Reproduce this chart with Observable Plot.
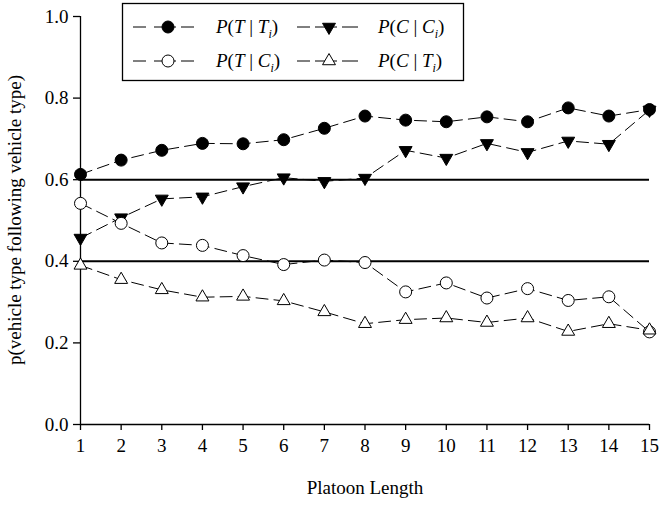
<!DOCTYPE html>
<html>
<head>
<meta charset="utf-8">
<script src="https://cdn.jsdelivr.net/npm/d3@7"></script>
<script src="https://cdn.jsdelivr.net/npm/@observablehq/plot@0.6"></script>
<style>
  html, body { margin: 0; padding: 0; background: #fff; }
  #chart svg { display: block; }
  #chart svg text { font-family: "Liberation Serif", "Times New Roman", serif; }
</style>
</head>
<body>
<div id="chart"></div>
<script>
// Platoon length on the x axis
const platoonLength = [1, 2, 3, 4, 5, 6, 7, 8, 9, 10, 11, 12, 13, 14, 15];

// Conditional probabilities of the following vehicle type
const pTgivenT = [0.613, 0.648, 0.672, 0.689, 0.688, 0.698, 0.726, 0.756, 0.746, 0.742, 0.754, 0.742, 0.776, 0.756, 0.772];
const pCgivenC = [0.457, 0.507, 0.553, 0.558, 0.583, 0.605, 0.596, 0.604, 0.672, 0.653, 0.689, 0.667, 0.695, 0.687, 0.771];
const pTgivenC = [0.542, 0.493, 0.445, 0.439, 0.414, 0.392, 0.403, 0.397, 0.325, 0.347, 0.310, 0.333, 0.304, 0.313, 0.227];
const pCgivenT = [0.390, 0.355, 0.330, 0.312, 0.314, 0.303, 0.276, 0.247, 0.257, 0.261, 0.250, 0.261, 0.228, 0.247, 0.231];

// Reference levels drawn as solid horizontal lines
const referenceLevels = [0.4, 0.6];

// Axis ticks and titles
const xTicks = platoonLength;
const yTicks = [0, 0.2, 0.4, 0.6, 0.8, 1.0];
const xTitle = "Platoon Length";
const yTitle = "p(vehicle type following vehicle type)";

// Series: legend label parts [given-letter, condition-letter], marker style
const series = [
  {key: "TT", values: pTgivenT, a: "T", b: "T", symbol: "circle",   fill: "black", rotate: 0,   r: 6},
  {key: "CC", values: pCgivenC, a: "C", b: "C", symbol: "triangle", fill: "black", rotate: 180, r: 4.8},
  {key: "TC", values: pTgivenC, a: "T", b: "C", symbol: "circle",   fill: "white", rotate: 0,   r: 6},
  {key: "CT", values: pCgivenT, a: "C", b: "T", symbol: "triangle", fill: "white", rotate: 0,   r: 4.8}
];

const font = "Liberation Serif, Times New Roman, serif";

const rowsFor = s => platoonLength.map((n, i) => ({n, v: s.values[i], key: s.key}));

const axisText = {fontFamily: font, fontSize: 19, fontVariant: "normal"};

const marks = [
  Plot.ruleY(referenceLevels, {x1: 1, x2: 15, stroke: "black", strokeWidth: 2}),
  Plot.ruleX([1], {y1: 0, y2: 1, stroke: "black", strokeWidth: 1.3}),
  Plot.ruleY([0], {x1: 1, x2: 15, stroke: "black", strokeWidth: 1.3}),
  Plot.axisY({ticks: yTicks, tickFormat: d3.format(".1f"), tickSize: 7, tickPadding: 5, label: null, strokeWidth: 1.3, stroke: "black", fill: "black", ...axisText}),
  Plot.axisX({ticks: xTicks, tickFormat: d3.format("d"), tickSize: 6, tickPadding: 8, label: null, strokeWidth: 1.3, stroke: "black", fill: "black", ...axisText})
];

for (const s of series) {
  marks.push(Plot.line(rowsFor(s), {x: "n", y: "v", stroke: "black", strokeWidth: 1, strokeDasharray: "12,6"}));
}
for (const s of series) {
  marks.push(Plot.dot(rowsFor(s), {
    x: "n", y: "v", r: s.r, symbol: s.symbol, rotate: s.rotate,
    fill: s.fill, stroke: "black", strokeWidth: 1
  }));
}

const chart = Plot.plot({
  width: 659,
  height: 505,
  marginLeft: 80,
  marginRight: 10,
  marginTop: 16,
  marginBottom: 81,
  x: {domain: [1, 15]},
  y: {domain: [0, 1]},
  style: {fontFamily: font, fontSize: "19px", background: "white", color: "black"},
  marks
});

document.getElementById("chart").appendChild(chart);

// Serif type for every label, including the tick labels
const svg = d3.select(chart);
svg.selectAll("text").style("font-family", font).style("font-size", "19px").style("font-variant", "normal");

// Axis titles and the boxed legend, added to the same SVG
svg.append("text")
  .attr("x", 365).attr("y", 494)
  .attr("text-anchor", "middle")
  .style("font-family", font).style("font-size", "19px")
  .text(xTitle);

svg.append("text")
  .attr("transform", "translate(21,220) rotate(-90)")
  .attr("text-anchor", "middle")
  .style("font-family", font).style("font-size", "19px")
  .text(yTitle);

const legend = svg.append("g").attr("text-anchor", "start");
legend.append("rect")
  .attr("x", 122.5).attr("y", 3.5).attr("width", 341).attr("height", 77)
  .attr("fill", "white").attr("stroke", "black").attr("stroke-width", 1.3);

const legendCols = [{line: 133, marker: 168, text: 216}, {line: 297, marker: 329, text: 378}];
const legendRows = [27, 61];
const legendSlots = [[0, 0], [0, 1], [1, 0], [1, 1]]; // [row, col] per series

series.forEach((s, i) => {
  const [ri, ci] = legendSlots[i];
  const col = legendCols[ci];
  const cy = legendRows[ri];
  const m = col.marker;
  // dashed sample line around the marker
  for (const [a, b] of [[col.line, col.line + 13], [m - 14, m + 8], [m + 13, col.line + 61]]) {
    legend.append("line")
      .attr("x1", a).attr("x2", b).attr("y1", cy).attr("y2", cy)
      .attr("stroke", "black").attr("stroke-width", 1);
  }
  const sym = s.symbol === "circle" ? d3.symbolCircle : d3.symbolTriangle;
  legend.append("path")
    .attr("d", d3.symbol(sym, Math.PI * s.r * s.r)())
    .attr("transform", `translate(${m},${cy}) rotate(${s.rotate})`)
    .attr("fill", s.fill).attr("stroke", "black").attr("stroke-width", 1);

  const t = legend.append("text")
    .attr("x", col.text).attr("y", cy + 6)
    .attr("text-anchor", "start")
    .style("font-family", font).style("font-size", "19px");
  t.append("tspan").style("font-style", "italic").text("P");
  t.append("tspan").text("(");
  t.append("tspan").style("font-style", "italic").text(s.a);
  t.append("tspan").text(" | ");
  t.append("tspan").style("font-style", "italic").text(s.b);
  t.append("tspan").style("font-style", "italic").style("font-size", "12px").attr("dy", 5).text("i");
  t.append("tspan").attr("dy", -5).text(")");
});
</script>
</body>
</html>
